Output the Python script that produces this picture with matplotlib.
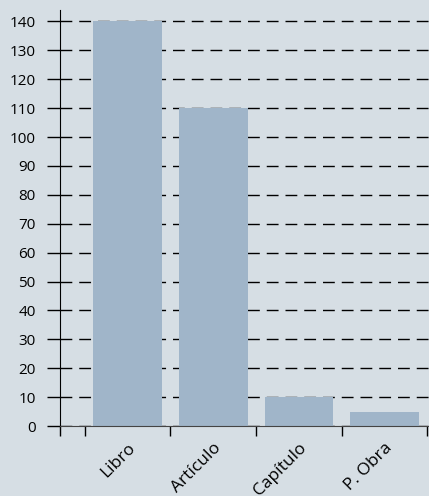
import numpy as np
import matplotlib.pyplot as plt

categories = ["Libro", "Artículo", "Capítulo", "P. Obra"]
values = [140, 110, 10, 5]
yticks = list(range(0, 141, 10))

bg = "#d6dee4"
bar_color = "#a0b5c9"

plt.rcParams["font.family"] = ["Open Sans", "DejaVu Sans"]

fig = plt.figure(figsize=(4.29, 4.96), dpi=100, facecolor=bg)
ax = fig.add_axes([0.14, 0.141, 0.86, 0.839], facecolor=bg)

x = np.arange(len(categories))
ax.bar(x, values, width=0.8, color=bar_color, zorder=2)

ax.set_xlim(-0.79, 3.52)
ax.set_ylim(0, 144)

ax.set_yticks(yticks)
ax.yaxis.grid(True, color="black", linestyle=(0, (8.5, 5)), linewidth=1)
ax.set_axisbelow(True)
ax.tick_params(axis="y", length=9.5, width=1, pad=8, labelsize=11, colors="black")

# boundary ticks (no labels) + centered labels on minor ticks
ax.set_xticks([-0.79] + list(np.arange(-0.5, len(categories), 1.0)))
ax.set_xticklabels([])
ax.tick_params(axis="x", which="major", length=7, width=1, color="black")
ax.set_xticks(x, minor=True)
ax.set_xticklabels(categories, minor=True, rotation=45, ha="right", va="top",
                   rotation_mode="anchor", fontsize=12.5)
ax.tick_params(axis="x", which="minor", length=0, pad=10)

for s in ["top", "right"]:
    ax.spines[s].set_visible(False)
ax.spines["left"].set_color("black")
ax.spines["bottom"].set_color("#444444")
ax.spines["bottom"].set_zorder(3)

fig.savefig("out.png", dpi=100, facecolor=bg)
